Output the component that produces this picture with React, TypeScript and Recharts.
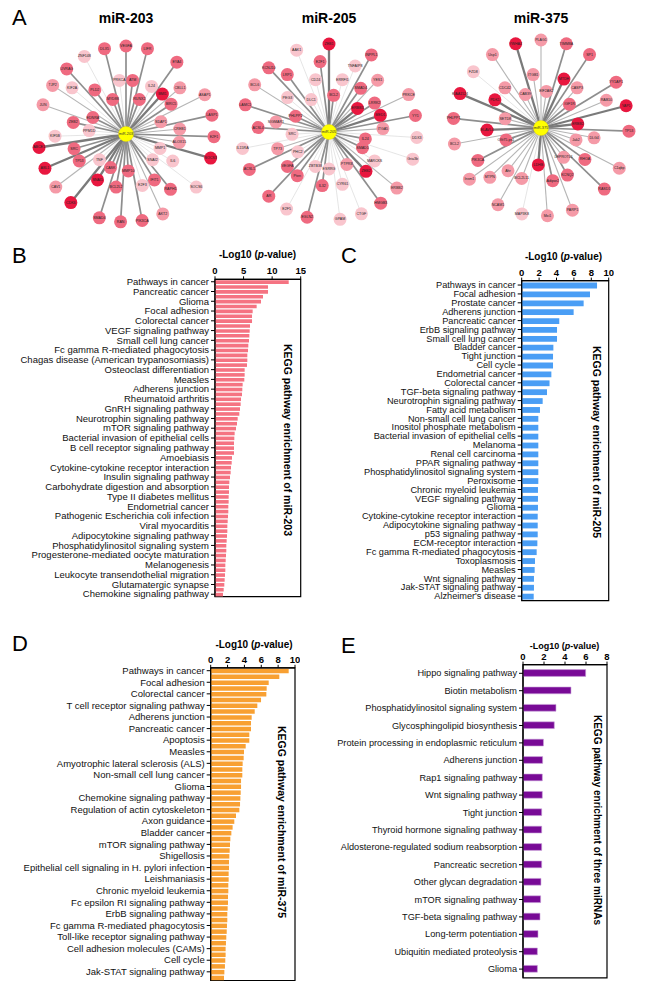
import React from 'react';
import {
  BarChart,
  Bar,
  XAxis,
  YAxis,
  ReferenceArea,
  RadarChart,
  Radar,
  PolarAngleAxis,
  PolarRadiusAxis,
} from 'recharts';

const FONT = '"Liberation Sans", Arial, Helvetica, sans-serif';

// ---- Panel A: miRNA-target networks (genes in clockwise order, ring = layer, score = interaction strength) ----
const genes203 = ['VEGFA', 'ATM', 'LIFR', 'RUNX2', 'IL24', 'EYA4', 'BMI1', 'CBLL1', 'BIRC5', 'ASAP1', 'SDAP1', 'LASP1', 'CREB1', 'E2F1', 'ALOX15', 'SOCS3', 'MMP1', 'IL6', 'SOCS6', 'SNAI2', 'RAPH1', 'IFIT1', 'AKT2', 'E2F3', 'PIK3CA', 'MMP10', 'RAN', 'BCL2L2', 'SMAD4', 'CASK', 'SNAI1', 'CDK6', 'TNF', 'CAV1', 'TP53', 'ABL1', 'SRC', 'ABCE1', 'KIF5B', 'PPM1D', 'ZEB2', 'JUN', 'EDNRA', 'TJP2', 'KIF2A', 'UVRAG', 'PLD2', 'ZNF148', 'MYD88', 'DLX5', 'PRKCA'];
const rings203 = [4, 2, 4, 1, 2, 4, 2, 3, 2, 4, 1, 4, 2, 4, 2, 4, 1, 2, 4, 1, 3, 2, 4, 2, 4, 1, 4, 2, 4, 1, 2, 4, 1, 4, 2, 4, 2, 4, 3, 1, 2, 4, 1, 4, 3, 4, 2, 4, 1, 4, 2];
const scores203 = [3, 3, 3, 3, 1, 3, 4, 2, 3, 2, 2, 3, 2, 3, 2, 4, 1, 1, 1, 1, 3, 3, 2, 1, 3, 3, 3, 3, 3, 3, 4, 4, 1, 2, 3, 4, 3, 4, 1, 1, 3, 2, 3, 2, 1, 3, 3, 1, 3, 3, 1];

const genes205 = ['ZEB1', 'BCL2', 'ERRFI1', 'TNFAIP8', 'INPPL1', 'SMAD4', 'YES1', 'ERBB3', 'LRRK2', 'PRKCE', 'MED1', 'YY1', 'ITGA5', 'DDX3', 'IL24', 'Gria3b', 'SMAD1', 'MARCKS', 'ERBB2', 'ZEB2', 'HMGB3', 'PTPRB', 'CTGF', 'CYR61', 'GPAM', 'ESRRG', 'IL32', 'EGLN2', 'ZBTB38', 'E2F5', 'Pten', 'AR', 'VEGFA', 'PHC2', 'ACSL1', 'TP73', 'IL15RA', 'SRC', 'ACSL4', 'SIGMAR1', 'LAMC1', 'PHLPP2', 'BCL6', 'PEG3', 'KCNJ10', 'LRP1', 'DLC1', 'AAK1', 'CD24', 'E2F1'];
const rings205 = [4, 1, 2, 3, 4, 2, 3, 1, 2, 4, 2, 4, 2, 4, 1, 4, 1, 2, 4, 2, 4, 1, 4, 2, 4, 1, 2, 4, 1, 4, 2, 4, 2, 1, 4, 2, 4, 1, 3, 2, 4, 1, 4, 2, 4, 3, 1, 4, 2, 3];
const scores205 = [4, 3, 1, 1, 3, 3, 2, 4, 3, 2, 4, 3, 2, 1, 3, 1, 3, 1, 2, 4, 3, 2, 1, 1, 1, 1, 3, 3, 1, 1, 3, 3, 3, 1, 3, 2, 1, 1, 3, 2, 3, 3, 2, 1, 3, 3, 1, 1, 1, 3];

const genes375 = ['PLAG1', 'EIF2AK2', 'TIMM8A', 'MTDH', 'SP1', 'CASP3', 'IGF1R', 'YY1AP1', 'RAB10', 'YAP1', 'ERBB2', 'TP53', 'DLG4', 'Jak2', 'C1qbp', 'RHOA', 'RASD1', 'LEPROTL1', 'KCNQ2', 'PARP1', 'Adipor2', 'Mxi1', 'LDHB', 'MAP3K8', 'BCL2L11', 'NCAM1', 'Ahr', 'MTPN', 'Insm1', 'PIK3CA', 'Olfr75-ps1', 'BCL2', 'ELAVL4', 'PHLPP1', 'SETD8', 'KIAA1524', 'PDK1', 'FZD8', 'CDC42', 'Usp1', 'CAB39', 'YWHAZ', 'ITGB1'];
const rings375 = [4, 1, 4, 2, 4, 2, 1, 4, 3, 4, 1, 4, 2, 1, 4, 2, 4, 1, 2, 4, 2, 4, 1, 4, 2, 4, 2, 3, 4, 3, 1, 4, 2, 4, 1, 4, 2, 4, 2, 4, 1, 4, 2];
const scores375 = [2, 2, 3, 4, 3, 2, 3, 3, 2, 4, 4, 3, 2, 2, 2, 3, 3, 2, 3, 2, 3, 2, 4, 1, 2, 2, 2, 2, 2, 3, 3, 2, 4, 3, 2, 4, 4, 1, 2, 2, 2, 4, 2];

// ---- Panel B: miR-203 KEGG enrichment (every second pathway is labelled) ----
const pathways203 = ['Pathways in cancer', 'Pancreatic cancer', 'Glioma', 'Focal adhesion', 'Colorectal cancer', 'VEGF signaling pathway', 'Small cell lung cancer', 'Fc gamma R-mediated phagocytosis', 'Chagas disease (American trypanosomiasis)', 'Osteoclast differentiation', 'Measles', 'Adherens junction', 'Rheumatoid arthritis', 'GnRH signaling pathway', 'Neurotrophin signaling pathway', 'mTOR signaling pathway', 'Bacterial invasion of epithelial cells', 'B cell receptor signaling pathway', 'Amoebiasis', 'Cytokine-cytokine receptor interaction', 'Insulin signaling pathway', 'Carbohydrate digestion and absorption', 'Type II diabetes mellitus', 'Endometrial cancer', 'Pathogenic Escherichia coli infection', 'Viral myocarditis', 'Adipocytokine signaling pathway', 'Phosphatidylinositol signaling system', 'Progesterone-mediated oocyte maturation', 'Melanogenesis', 'Leukocyte transendothelial migration', 'Glutamatergic synapse', 'Chemokine signaling pathway'];
const enrich203 = [12.9, 9.28, 9.28, 8.4, 8.05, 7.29, 6.59, 6.48, 6.48, 6.13, 6.07, 6.01, 5.95, 5.83, 5.78, 5.66, 5.66, 5.6, 5.19, 5.19, 5.13, 4.84, 4.78, 4.73, 4.55, 4.49, 4.38, 4.26, 3.97, 3.85, 3.68, 3.44, 3.38, 3.33, 3.33, 3.33, 2.98, 2.92, 2.8, 2.74, 2.63, 2.51, 2.45, 2.45, 2.39, 2.39, 2.33, 2.33, 2.28, 2.22, 2.16, 2.16, 2.1, 2.04, 1.98, 1.98, 1.93, 1.87, 1.81, 1.81, 1.75, 1.69, 1.63, 1.52, 1.4];

// ---- Panel C: miR-205 ----
const pathways205 = ['Pathways in cancer', 'Focal adhesion', 'Prostate cancer', 'Adherens junction', 'Pancreatic cancer', 'ErbB signaling pathway', 'Small cell lung cancer', 'Bladder cancer', 'Tight junction', 'Cell cycle', 'Endometrial cancer', 'Colorectal cancer', 'TGF-beta signaling pathway', 'Neurotrophin signaling pathway', 'Fatty acid metabolism', 'Non-small cell lung cancer', 'Inositol phosphate metabolism', 'Bacterial invasion of epithelial cells', 'Melanoma', 'Renal cell carcinoma', 'PPAR signaling pathway', 'Phosphatidylinositol signaling system', 'Peroxisome', 'Chronic myeloid leukemia', 'VEGF signaling pathway', 'Glioma', 'Cytokine-cytokine receptor interaction', 'Adipocytokine signaling pathway', 'p53 signaling pathway', 'ECM-receptor interaction', 'Fc gamma R-mediated phagocytosis', 'Toxoplasmosis', 'Measles', 'Wnt signaling pathway', 'Jak-STAT signaling pathway', "Alzheimer's disease"];
const enrich205 = [8.66, 7.85, 7.12, 5.97, 4.32, 4.06, 4.06, 3.64, 3.6, 3.6, 3.41, 3.2, 2.91, 2.41, 2.1, 1.91, 1.91, 1.91, 1.91, 1.91, 1.91, 1.91, 1.91, 1.87, 1.87, 1.87, 1.84, 1.84, 1.84, 1.8, 1.72, 1.53, 1.49, 1.41, 1.41, 1.38];

// ---- Panel D: miR-375 (every second pathway is labelled) ----
const pathways375 = ['Pathways in cancer', 'Focal adhesion', 'Colorectal cancer', 'T cell receptor signaling pathway', 'Adherens junction', 'Pancreatic cancer', 'Apoptosis', 'Measles', 'Amyotrophic lateral sclerosis (ALS)', 'Non-small cell lung cancer', 'Glioma', 'Chemokine signaling pathway', 'Regulation of actin cytoskeleton', 'Axon guidance', 'Bladder cancer', 'mTOR signaling pathway', 'Shigellosis', 'Epithelial cell signaling in H. pylori infection', 'Leishmaniasis', 'Chronic myeloid leukemia', 'Fc epsilon RI signaling pathway', 'ErbB signaling pathway', 'Fc gamma R-mediated phagocytosis', 'Toll-like receptor signaling pathway', 'Cell adhesion molecules (CAMs)', 'Cell cycle', 'Jak-STAT signaling pathway'];
const enrich375 = [9.25, 8.14, 6.88, 6.64, 6.6, 5.97, 5.53, 5.22, 4.86, 4.78, 4.78, 4.58, 4.58, 4.15, 3.95, 3.91, 3.79, 3.75, 3.75, 3.6, 3.6, 3.56, 3.52, 3.48, 3.4, 3.0, 2.8, 2.6, 2.45, 2.33, 2.29, 2.25, 2.21, 2.17, 2.17, 2.13, 2.13, 2.09, 2.09, 2.05, 2.05, 2.01, 1.97, 1.97, 1.93, 1.9, 1.85, 1.81, 1.77, 1.77, 1.73, 1.69, 1.62, 1.58];

// ---- Panel E: shared by the three miRNAs ----
const pathwaysShared = ['Hippo signaling pathway', 'Biotin metabolism', 'Phosphatidylinositol signaling system', 'Glycosphingolipid biosynthesis', 'Protein processing in endoplasmic reticulum', 'Adherens junction', 'Rap1 signaling pathway', 'Wnt signaling pathway', 'Tight junction', 'Thyroid hormone signaling pathway', 'Aldosterone-regulated sodium reabsorption', 'Pancreatic secretion', 'Other glycan degradation', 'mTOR signaling pathway', 'TGF-beta signaling pathway', 'Long-term potentiation', 'Ubiquitin mediated proteolysis', 'Glioma'];
const enrichShared = [5.97, 4.57, 3.14, 2.98, 1.95, 1.87, 1.84, 1.84, 1.78, 1.78, 1.78, 1.78, 1.71, 1.68, 1.62, 1.43, 1.37, 1.37];

const NET_W = 210;
const NET_H = 220;
const NODE_FILL = ['', '#f9c5cd', '#f59aa7', '#ef6a80', '#e8173f'];
const EDGE_STROKE = ['', '#dedede', '#b5b5b5', '#8e8e8e', '#7a7a7a'];
const EDGE_WIDTH = [0, 0.8, 1.1, 1.7, 2.3];

interface NetworkProps {
  title: string;
  hub: string;
  genes: string[];
  rings: number[];
  scores: number[];
  left: number;
  top: number;
}

const Network: React.FC<NetworkProps> = ({ title, hub, genes, rings, scores, left, top }) => {
  const data = genes.map((g, i) => ({ gene: g, ring: rings[i] }));
  const ox = NET_W / 2;
  const oy = NET_H / 2;

  const renderEdge = (p: any) => {
    const s = scores[p.index];
    return (
      <line
        key={`e-${p.index}`}
        x1={ox}
        y1={oy}
        x2={p.cx}
        y2={p.cy}
        stroke={EDGE_STROKE[s]}
        strokeWidth={EDGE_WIDTH[s]}
      />
    );
  };

  const renderNode = (p: any) => {
    const s = scores[p.index];
    return (
      <g key={`n-${p.index}`}>
        {p.index === 0 && (
          <g>
            <circle cx={ox} cy={oy} r={7.5} fill="#ffff00" stroke="#e6d800" strokeWidth={0.4} />
            <text x={ox} y={oy} fontSize={3.8} textAnchor="middle" dominantBaseline="central" fill="#333">
              {hub}
            </text>
          </g>
        )}
        <circle cx={p.cx} cy={p.cy} r={6.5} fill={NODE_FILL[s]} />
        <text x={p.cx} y={p.cy} fontSize={3.6} textAnchor="middle" dominantBaseline="central" fill="#222">
          {genes[p.index]}
        </text>
      </g>
    );
  };

  return (
    <>
      <div
        style={{
          position: 'absolute',
          left: left + NET_W / 2,
          top: 18,
          transform: 'translate(-50%, -50%)',
          fontWeight: 'bold',
          fontSize: 14,
          whiteSpace: 'nowrap',
        }}
      >
        {title}
      </div>
      <div style={{ position: 'absolute', left, top }}>
        <RadarChart
          width={NET_W}
          height={NET_H}
          data={data}
          cx="50%"
          cy="50%"
          innerRadius={20}
          outerRadius={88}
          margin={{ top: 0, right: 0, bottom: 0, left: 0 }}
        >
          <PolarAngleAxis dataKey="gene" tick={false} axisLine={false} tickLine={false} />
          <PolarRadiusAxis type="number" domain={[0, 4]} tick={false} axisLine={false} />
          <Radar dataKey="ring" stroke="none" fill="none" dot={renderEdge} activeDot={false} isAnimationActive={false} />
          <Radar dataKey="ring" stroke="none" fill="none" dot={renderNode} activeDot={false} isAnimationActive={false} />
        </RadarChart>
      </div>
    </>
  );
};

interface PanelProps {
  labels: string[];
  values: number[];
  every: number;
  max: number;
  ticks: number[];
  fill: string;
  stroke?: string;
  barSize: number;
  labelSize: number;
  left: number;
  top: number;
  width: number;
  height: number;
  margin: { top: number; right: number; bottom: number; left: number };
  yWidth: number;
}

const EnrichmentPanel: React.FC<PanelProps> = (p) => {
  const data = p.values.map((v, i) => ({
    id: `k${i}`,
    value: v,
    label: i % p.every === 0 ? p.labels[i / p.every] : '',
  }));
  const labelOf: Record<string, string> = {};
  data.forEach((d) => {
    labelOf[d.id] = d.label;
  });

  // plain single-line tick so long pathway names never wrap
  const PathwayTick = (t: any) => (
    <text x={t.x} y={t.y} dy="0.34em" textAnchor="end" fontSize={p.labelSize} fill="#111" fontFamily={FONT}>
      {labelOf[t.payload.value]}
    </text>
  );

  return (
    <div style={{ position: 'absolute', left: p.left, top: p.top }}>
      <BarChart width={p.width} height={p.height} data={data} layout="vertical" margin={p.margin}>
        <XAxis
          type="number"
          orientation="top"
          domain={[0, p.max]}
          ticks={p.ticks}
          height={20}
          axisLine={{ stroke: '#000', strokeWidth: 1.2 }}
          tickLine={{ stroke: '#000', strokeWidth: 1 }}
          tickSize={3}
          tick={{ fontSize: 9.5, fontWeight: 'bold', fill: '#000' }}
        />
        <YAxis
          type="category"
          dataKey="id"
          width={p.yWidth}
          interval={p.every - 1}
          axisLine={{ stroke: '#000', strokeWidth: 1.2 }}
          tickLine={{ stroke: '#000', strokeWidth: 1 }}
          tickSize={4}
          tick={PathwayTick}
        />
        <Bar dataKey="value" fill={p.fill} stroke={p.stroke} strokeWidth={0.6} barSize={p.barSize} isAnimationActive={false} />
        <ReferenceArea x1={0} x2={p.max} fill="none" fillOpacity={0} stroke="#000" strokeWidth={1.2} ifOverflow="visible" />
      </BarChart>
    </div>
  );
};

const letter = (ch: string, x: number, y: number) => (
  <div style={{ position: 'absolute', left: x, top: y - 12, fontSize: 22, lineHeight: '24px' }}>{ch}</div>
);

const axisTitle = (x: number, y: number, size: number) => (
  <div
    style={{
      position: 'absolute',
      left: x,
      top: y,
      transform: 'translate(-50%, -50%)',
      fontWeight: 'bold',
      fontSize: size,
      whiteSpace: 'nowrap',
    }}
  >
    -Log10 (<i>p</i>-value)
  </div>
);

const sideTitle = (text: string, x: number, y: number, size: number) => (
  <div
    style={{
      position: 'absolute',
      left: x,
      top: y,
      transform: 'translate(-50%, -50%) rotate(90deg)',
      fontWeight: 'bold',
      fontSize: size,
      whiteSpace: 'nowrap',
    }}
  >
    {text}
  </div>
);

export default function App() {
  return (
    <div
      style={{
        position: 'absolute',
        left: 0,
        top: 0,
        width: 650,
        height: 989,
        overflow: 'hidden',
        background: '#fff',
        fontFamily: FONT,
        color: '#000',
      }}
    >
      {letter('A', 12, 18)}
      <Network title="miR-203" hub="miR-203" genes={genes203} rings={rings203} scores={scores203} left={21} top={24} />
      <Network title="miR-205" hub="miR-205" genes={genes205} rings={rings205} scores={scores205} left={224} top={22} />
      <Network title="miR-375" hub="miR-375" genes={genes375} rings={rings375} scores={scores375} left={436} top={18} />

      {letter('B', 12, 256)}
      {axisTitle(257.5, 254, 10)}
      <EnrichmentPanel
        labels={pathways203}
        values={enrich203}
        every={2}
        max={15}
        ticks={[0, 5, 10, 15]}
        fill="#f57382"
        barSize={3.6}
        labelSize={9.5}
        left={0}
        top={240}
        width={306}
        height={362}
        margin={{ top: 19.3, right: 5.3, bottom: 5.3, left: 0 }}
        yWidth={215}
      />
      {sideTitle('KEGG pathway enrichment of miR-203', 288, 440, 10.5)}

      {letter('C', 341, 256)}
      {axisTitle(563.5, 255.5, 10)}
      <EnrichmentPanel
        labels={pathways205}
        values={enrich205}
        every={1}
        max={10}
        ticks={[0, 2, 4, 6, 8, 10]}
        fill="#4a9ef5"
        barSize={5.8}
        labelSize={9.2}
        left={320}
        top={240}
        width={294}
        height={366}
        margin={{ top: 20.6, right: 5.3, bottom: 5.4, left: 0 }}
        yWidth={201.7}
      />
      {sideTitle('KEGG pathway enrichment of miR-205', 596.7, 442, 10.5)}

      {letter('D', 12, 644)}
      {axisTitle(254, 644, 10)}
      <EnrichmentPanel
        labels={pathways375}
        values={enrich375}
        every={2}
        max={10}
        ticks={[0, 2, 4, 6, 8, 10]}
        fill="#f8a032"
        barSize={4.5}
        labelSize={9.5}
        left={0}
        top={625}
        width={300}
        height={360}
        margin={{ top: 22.8, right: 5, bottom: 4.5, left: 0 }}
        yWidth={210.7}
      />
      {sideTitle('KEGG pathway enrichment of miR-375', 281.7, 822, 10.5)}

      {letter('E', 341, 646)}
      {axisTitle(564.5, 645.5, 9)}
      <EnrichmentPanel
        labels={pathwaysShared}
        values={enrichShared}
        every={1}
        max={8}
        ticks={[0, 2, 4, 6, 8]}
        fill="#780a96"
        stroke="#c9a3da"
        barSize={6.8}
        labelSize={9.2}
        left={320}
        top={625}
        width={292}
        height={358}
        margin={{ top: 19.6, right: 5, bottom: 5.2, left: 0 }}
        yWidth={203}
      />
      {sideTitle('KEGG pathway enrichment of three miRNAs', 596.7, 820, 10)}
    </div>
  );
}
